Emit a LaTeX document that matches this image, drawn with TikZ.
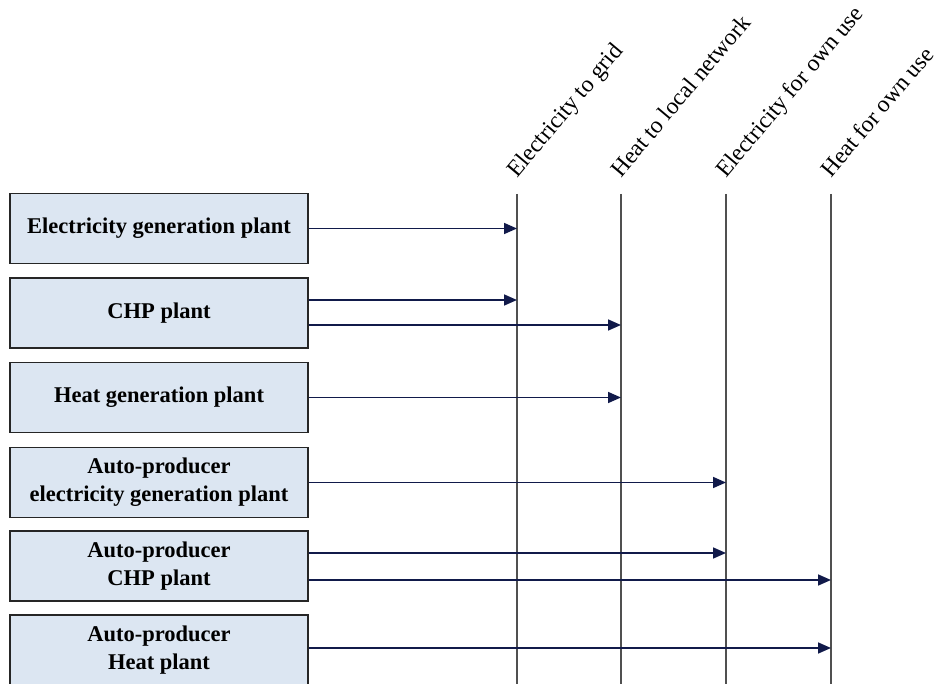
\documentclass[tikz,border=0pt]{standalone}
\usepackage{fontspec}
\setmainfont{Liberation Serif}
\usetikzlibrary{arrows.meta}
\definecolor{boxfill}{HTML}{DCE6F2}
\definecolor{flow}{HTML}{111A4A}
\definecolor{rail}{HTML}{505050}
\begin{document}
\begin{tikzpicture}[x=1pt,y=-1pt,
  plantbox/.style={draw=black!85,line width=1.6pt,fill=boxfill,rectangle,
    minimum width=298pt,minimum height=70pt,inner sep=0pt,align=center,
    font=\fontsize{22.5}{28}\selectfont\bfseries},
  railline/.style={draw=rail,line width=1.3pt},
  flowarrow/.style={draw=flow,line width=1.7pt,-{Triangle[length=13pt,width=11pt]}},
  railtag/.style={rotate=50,anchor=base west,inner sep=0pt,
    font=\fontsize{23.5}{27}\selectfont}]
\useasboundingbox (0,0) rectangle (934,684);

% source plants
\node[plantbox] (b1) at (159,228.5) {Electricity generation plant};
\node[plantbox] (b2) at (159,313) {CHP plant};
\node[plantbox] (b3) at (159,397.5) {Heat generation plant};
\node[plantbox] (b4) at (159,482.5) {Auto-producer\\electricity generation plant};
\node[plantbox] (b5) at (159,566) {Auto-producer\\CHP plant};
\node[plantbox] (b6) at (159,650) {Auto-producer\\Heat plant};

% destination rails
\coordinate (r1t) at (517,194); \coordinate (r1b) at (517,684);
\coordinate (r2t) at (621,194); \coordinate (r2b) at (621,684);
\coordinate (r3t) at (726,194); \coordinate (r3b) at (726,684);
\coordinate (r4t) at (831,194); \coordinate (r4b) at (831,684);
\draw[railline] (r1t) -- (r1b);
\draw[railline] (r2t) -- (r2b);
\draw[railline] (r3t) -- (r3b);
\draw[railline] (r4t) -- (r4b);

\node[railtag] (t1) at ([xshift=0pt,yshift=15pt]r1t) {Electricity to grid};
\node[railtag] (t2) at ([xshift=0pt,yshift=15pt]r2t) {Heat to local network};
\node[railtag] (t3) at ([xshift=0pt,yshift=15pt]r3t) {Electricity for own use};
\node[railtag] (t4) at ([xshift=0pt,yshift=15pt]r4t) {Heat for own use};

% flows
\draw[flowarrow] (b1.east) -- (r1t |- b1.east);
\draw[flowarrow] (b2.east |- 0,300) -- (r1t |- 0,300);
\draw[flowarrow] (b2.east |- 0,325) -- (r2t |- 0,325);
\draw[flowarrow] (b3.east) -- (r2t |- b3.east);
\draw[flowarrow] (b4.east) -- (r3t |- b4.east);
\draw[flowarrow] (b5.east |- 0,553) -- (r3t |- 0,553);
\draw[flowarrow] (b5.east |- 0,580) -- (r4t |- 0,580);
\draw[flowarrow] (b6.east |- 0,648) -- (r4t |- 0,648);
\end{tikzpicture}
\end{document}
